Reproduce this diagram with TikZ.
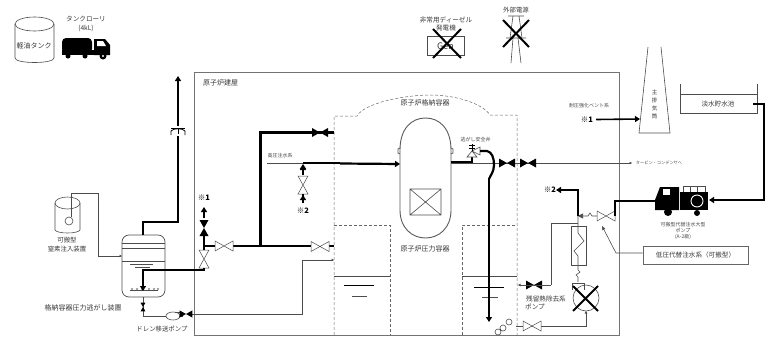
\documentclass[tikz,border=0pt]{standalone}
\usepackage{fontspec}
\setmainfont{Noto Sans CJK JP}
\usetikzlibrary{arrows.meta}
\tikzset{
  lbl/.style={inner sep=0pt,text=black!78,font=\fontsize{7}{8}\selectfont,align=center},
  lbls/.style={inner sep=0pt,text=black!72,font=\fontsize{5}{6}\selectfont,align=center},
  mark1/.style={inner sep=0pt,text=black,font=\fontsize{7.5}{8}\selectfont\bfseries},
  thin1/.style={draw=black!70,line width=.6pt},
  thick1/.style={draw=black,line width=2.2pt},
  grayline/.style={draw=black!55,line width=.9pt},
  dots/.style={draw=black!60,line width=.5pt,densely dashed},
  arr/.style={-{Triangle[length=5pt,width=6pt]}},
  arrs/.style={-{Triangle[length=2.5pt,width=2.5pt]}},
  wvalve/.pic={\draw[draw=black!70,fill=white,line width=.5pt] (-9,-5)--(9,5)--(9,-5)--(-9,5)--cycle;},
  bvalve/.pic={\fill[black] (-8,-4.5)--(8,4.5)--(8,-4.5)--(-8,4.5)--cycle;},
  xmark/.style={draw=black,line width=2pt}
}
\begin{document}
\begin{tikzpicture}[x=1pt,y=-1pt]
\useasboundingbox (0,0) rectangle (773,343);

% building and containment
\draw[grayline] (194.5,72) rectangle (619.5,335);
\node[lbl,anchor=west] (bldg) at (203,83) {原子炉建屋};
\draw[dots] (334,335)--(334,116)--(357,116) .. controls (364,103) and (405,95) .. (430,95) .. controls (455,95) and (482,103) .. (490,115)--(517,115)--(517,335);
\node[lbl] (pcv) at (425,103) {原子炉格納容器};
\draw[dots] (334,225)--(390,225)--(390,335);
\draw[dots] (462,335)--(462,225)--(517,225);
\draw[thin1] (334,276)--(390,276) (462,276)--(517,276);
\draw[draw=black,line width=.8pt] (344,285)--(374,285) (474,287)--(504,287);
\draw[thin1] (352,296)--(367,296) (482,297)--(498,297);

% pressure vessel
\draw[draw=black!65,line width=.9pt] (400,150) .. controls (400,128) and (412,118) .. (425.5,118) .. controls (439,118) and (451,128) .. (451,150)--(451,210) .. controls (451,228) and (439,238) .. (425.5,238) .. controls (412,238) and (400,228) .. (400,210)--cycle;
\draw[draw=black!65,line width=.7pt] (400,148)--(398,149)--(398,153)--(400,154) (451,148)--(453,149)--(453,153)--(451,154);
\draw[thin1] (410,189) rectangle (441,215) (410,189)--(441,215) (441,189)--(410,215);
\node[lbl] (rpv) at (425,249) {原子炉圧力容器};

% top-left items
\draw[thin1,fill=white] (15,24)--(15,58) .. controls (15,64) and (54,64) .. (54,58)--(54,24);
\draw[thin1] (34.5,24) ellipse [x radius=19.5,y radius=7];
\node[lbl] (tank) at (34,46) {軽油タンク};
\node[lbl,font=\fontsize{6.6}{9}\selectfont] (lorry) at (86,24) {タンクローリ\\(4kL)};
\fill[black,rounded corners=4pt] (62,38) rectangle (92,53);
\fill[black] (62,50) rectangle (110,55);
\fill[black] (94,39)--(105,39)--(110,45)--(110,55)--(94,55)--cycle;
\fill[white] (97,41)--(103,41)--(106,46)--(97,46)--cycle;
\fill[black] (68,56) circle (2.5) (85,56) circle (2.5) (103,56) circle (3.5);
\fill[white] (103,56) circle (1.2);

% generator and grid
\node[lbl,font=\fontsize{6.6}{8}\selectfont] (dgtext) at (446,24) {非常用ディーゼル\\発電機};
\node[draw=black!70,line width=.8pt,minimum width=37pt,minimum height=19pt,inner sep=0pt,font=\fontsize{9}{10}\selectfont,text=black!80] (gen) at (445.5,46) {Gen};
\draw[xmark] (433,58)--(461,29) (433,29)--(461,58);
\node[lbl,font=\fontsize{6.4}{8}\selectfont] (grid) at (516,10) {外部電源};
\draw[thin1] (508,16)--(524,16) (506,38)--(526,38) (513,16)--(510,38) (519,16)--(522,38) (513,38)--(511,63) (518,38)--(521,63);
\draw[xmark] (503,20)--(529,47) (529,20)--(503,47);

% stack, pond
\draw[thin1] (648,47)--(639,133)--(670,133)--(661,47);
\node[lbl,font=\fontsize{5.5}{8}\selectfont] (stack) at (654.5,104.5) {主\\排\\気\\筒};
\draw[thin1] (680,84)--(680,113)--(757,113)--(757,84) (680,94)--(757,94);
\node[lbl,font=\fontsize{6.6}{8}\selectfont] (pond) at (718,104) {淡水貯水池};
\node[lbls] (vent) at (589,106) {耐圧強化ベント系};
\node[mark1] (m1b) at (587,119.5) {※1};
\draw[line width=1.6pt,arr] (m1b.east)+(3,0) -- (640,119);

% truck and pump
\fill[black] (655,200)--(660,187)--(679,187)--(679,210)--(655,210)--cycle;
\fill[white] (663,189) rectangle (670,195);
\fill[black] (668,212) circle (4);
\fill[black] (680,192) rectangle (708,210);
\draw[thin1] (683,192)--(683,186)--(705,186)--(705,192) (690,186)--(690,192) (697,186)--(697,192);
\draw[draw=white,fill=black,line width=.9pt] (697,201) circle (6);
\fill[black] (697,213) circle (3);
\node[lbls] (truck) at (683,231) {可搬型代替注水大型\\ポンプ\\(A-2級)};
\node[draw=black!60,line width=.7pt,minimum width=105pt,minimum height=18pt,inner sep=0pt,text=black!78,font=\fontsize{6.6}{8}\selectfont] (lpbox) at (695.5,255) {低圧代替注水系（可搬型）};

% external water line
\coordinate (pondout) at (753,104);
\coordinate (tkin) at (709,200);
\draw[thick1,arr] (pondout)--(764,104)--(764,200)--(tkin);
\coordinate (tkout) at (655,201);
\pic (vlp) at (606,216) {wvalve};
\draw[thick1] (tkout)--(615,201)--(615,216);
\draw[thin1,arrs,-{Triangle[length=5pt,width=5pt]}] (597,216)--(592,216)--(590,213)--(588,216)--(578,216);
\draw[thick1,arr] (578,216)--(578,190)--(556,190);
\node[mark1] (m2c) at (550,190) {※2};
\coordinate (lead) at (616,253);
\draw[thin1,-{Triangle[length=4pt,width=3pt]}] (lpbox.west|-lead)--(lead)--(602,226);

% RHR
\draw[thin1] (571,226) rectangle (586,265);
\draw[thin1] (578,216)--(578,233)--(584,241)--(574,251)--(578,256)--(578,270)--(580,272)--(576,275)--(578,277)--(578,282);
\draw[thin1] (572,290)--(572,283)--(584,283)--(584,290);
\draw[thin1] (586,298) circle (13);
\draw[thin1] (578,223)--(551,223)--(551,285);
\pic (vrhr) at (534,285) {bvalve};
\draw[thin1,arrs] (551,285)--(518,285);
\node[lbl,font=\fontsize{6.6}{8}\selectfont] (rhrp1) at (546,299) {残留熱除去系};
\node[lbl,font=\fontsize{6.6}{8}\selectfont,anchor=west] (rhrp2) at (525,307) {ポンプ};
\draw[thin1,arrs] (516,326)--(586,326)--(586,311);
\pic (vrhrs) at (532,326) {wvalve};
\draw[thin1] (498,332) circle (3) (503,328) circle (3) (509,322) circle (3);
\draw[xmark] (573,311)--(598,286) (573,286)--(598,311);

% steam line
\draw[thin1,arrs] (451,163)--(632,163);
\node[lbls,font=\fontsize{4.2}{5}\selectfont] (cond) at (659,163) {タービン・コンデンサへ};
\pic (v7) at (507,163) {bvalve};
\pic (v8) at (528,163) {bvalve};
\draw[thick1] (451,162)--(472,162)--(472,156);
\draw[thin1,fill=white] (467,157)--(477,157)--(472,151)--cycle (472,151)--(480,147)--(480,155)--cycle;
\draw[draw=black,line width=.9pt] (472,151)--(472,144) (469,145)--(475,145) (469,148)--(475,148);
\node[lbls] (srv) at (475.5,140) {逃がし安全弁};
\draw[thick1] (480,151)--(487,151) .. controls (492,152) and (494,158) .. (494,165) .. controls (494,172) and (490,176) .. (489,179);
\draw[thick1,arr] (489,178)--(489,322);

% injection line into RPV
\draw[thin1] (267,163)--(303,163);
\node[lbls] (hpcs) at (280,156) {高圧注水系};
\draw[thick1] (303,163)--(340,163);
\draw[thick1,arr] (340,163.5)--(400,164);
\pic[rotate=90] (v3) at (303,185) {wvalve};
\draw[thick1,arr] (303,203)--(303,194) (303,175)--(303,165);
\draw[line width=1.6pt,arr] (303,203)--(303,195);
\draw[line width=1.6pt,arr] (303,175)--(303,164);
\node[mark1] (m2a) at (303,211) {※2};

% main thick pipes
\draw[thick1] (334,132.5)--(260.5,132.5)--(260.5,246);
\pic (v1) at (320,132.5) {bvalve};
\draw[thick1] (204,246)--(215,246) (233,246)--(311,246) (329,246)--(334,246);
\pic (v2) at (224,246) {wvalve};
\pic (v4) at (320,246.5) {wvalve};
\draw[thin1,arrs] (192,314)--(302,314)--(302,260)--(334,260);
\draw[thick1] (204,250)--(204,236);
\pic[rotate=90] (v5) at (204,228) {bvalve};
\draw[thick1] (204,218)--(204,214);
\draw[thick1,arr] (204,218)--(204,207);
\node[mark1] (m1a) at (204,198) {※1};
\pic[rotate=90] (v6) at (204,259) {wvalve};

% filter vessel
\node[draw=black!70,line width=.7pt,rounded corners=7pt,minimum width=43pt,minimum height=62pt,inner sep=0pt] (filter) at (143.5,266) {};
\draw[thin1] (122,243)--(165,243) (122,248)--(165,248);
\draw[thin1] (122,261)--(165,261);
\draw[thin1] (130,264)--(153,264) (135,267)--(150,267);
\draw[draw=black!70,line width=.7pt] (130,290)--(158,290);
\foreach \px in {132,137,142,149,154,158}{\draw[draw=black!70,line width=.4pt] (\px-1,288)--(\px,290)--(\px+1,288);}
\draw[thick1,arr] (204,268)--(204,270)--(143,270)--(143,291);
\coordinate (ftop) at (143,235);
\draw[thick1,arr] (ftop)--(143,222)--(178,222)--(178,76);
\fill[white] (170,126) rectangle (187,136);
\draw[draw=black,line width=.8pt] (171,128)--(185,128);
\draw[draw=black,line width=.8pt] (178,128)--(178,134);
\draw[draw=black,line width=.8pt] (171,135)--(171,131) .. controls (173,128) and (183,128) .. (185,131)--(185,135);

% nitrogen unit
\draw[thin1] (55,203)--(55,230) .. controls (57,234) and (78,234) .. (80,230)--(80,203);
\draw[thin1] (67.5,203) ellipse [x radius=12.5,y radius=6];
\draw[thin1] (69,221) circle (4);
\draw[thin1,arrs] (71,217)--(71,193)--(98,193)--(98,256)--(122,256);
\node[lbl,font=\fontsize{6.4}{9}\selectfont] (n2) at (67,245) {可搬型\\窒素注入装置};

% filter bottom, drain pump
\node[lbl] (fv) at (83,308) {格納容器圧力逃がし装置};
\draw[thin1] (143,297)--(143,316)--(166,316);
\pic[rotate=90,scale=.55] (vd) at (143,307) {bvalve};
\draw[thin1,fill=white] (173,316) ellipse [x radius=7,y radius=4];
\draw[thin1] (175,312)--(182,312)--(182,316)--(179,316);
\pic[scale=.8] (vp) at (186,314) {bvalve};
\node[lbl,font=\fontsize{6.4}{8}\selectfont] (dp) at (162,329) {ドレン移送ポンプ};
\end{tikzpicture}
\end{document}
